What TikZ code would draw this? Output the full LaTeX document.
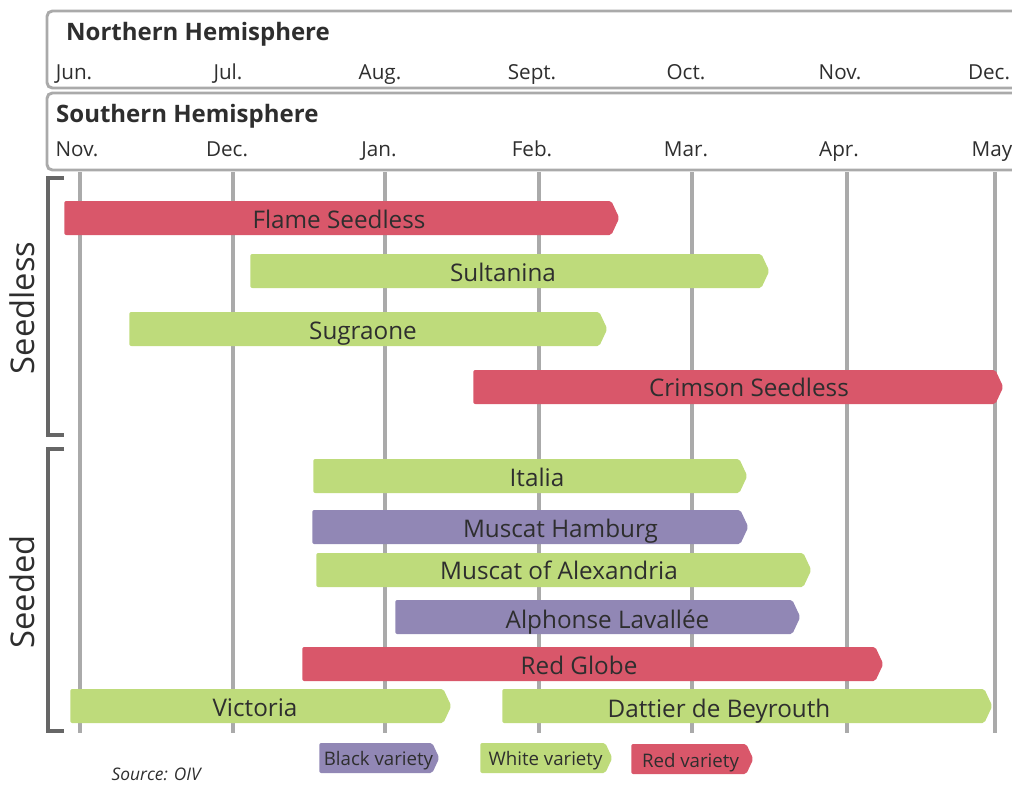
\documentclass[tikz,border=0pt]{standalone}
\usepackage{fontspec}
\setmainfont{Open Sans}
\usetikzlibrary{shapes.symbols}
\definecolor{redvar}{HTML}{D9576A}
\definecolor{whitevar}{HTML}{BEDB7B}
\definecolor{blackvar}{HTML}{9187B5}
\definecolor{gridgray}{HTML}{AAAAAA}
\definecolor{bracketgray}{HTML}{666666}
\definecolor{inkgray}{HTML}{2E2E2E}

\begin{document}
\begin{tikzpicture}[x=0.75pt,y=-0.75pt,
  bar/.style={signal, signal to=east, signal pointer angle=130, rounded corners=1.5pt,
    anchor=west, minimum height=25.5pt, inner sep=0pt},
  keybar/.style={bar, minimum height=22.5pt},
  barlabel/.style={anchor=base, text=inkgray, font=\fontsize{18.2}{18}\selectfont},
  keylabel/.style={anchor=base, text=inkgray, font=\fontsize{14}{14}\selectfont},
  month/.style={anchor=base, text=inkgray, font=\fontsize{15.5}{16}\selectfont},
  hemi/.style={anchor=base west, text=inkgray, font=\fontsize{18}{18}\selectfont\bfseries},
  headbox/.style={draw=gridgray, line width=2.2pt, rounded corners=4pt},
  gridline/.style={draw=gridgray, line width=2.5pt},
  bracket/.style={draw=bracketgray, line width=2.6pt},
  group/.style={rotate=90, text=inkgray, font=\fontsize{24.5}{25}\selectfont}]
\useasboundingbox (0,0) rectangle (1012,785);

% hemisphere headers
\draw[headbox] (47,11) rectangle (1060,88);
\draw[headbox] (47,93) rectangle (1060,170);
\node[hemi] (north) at (61.5,40) {Northern Hemisphere};
\node[hemi] (south) at (51.5,122) {Southern Hemisphere};

\node[month] (nJun) at (74,79) {Jun.};
\node[month] (nJul) at (228,79) {Jul.};
\node[month] (nAug) at (380,79) {Aug.};
\node[month] (nSep) at (532,79) {Sept.};
\node[month] (nOct) at (686,79) {Oct.};
\node[month] (nNov) at (840,79) {Nov.};
\node[month] (nDec) at (989,79) {Dec.};

\node[month] (sNov) at (77,156) {Nov.};
\node[month] (sDec) at (227,156) {Dec.};
\node[month] (sJan) at (379,156) {Jan.};
\node[month] (sFeb) at (532,156) {Feb.};
\node[month] (sMar) at (686,156) {Mar.};
\node[month] (sApr) at (839,156) {Apr.};
\node[month, anchor=base west] (sMay) at (967,156) {May};

% month grid
\draw[gridline] (80,172) -- (80,733);
\draw[gridline] (233,172) -- (233,733);
\draw[gridline] (385,172) -- (385,733);
\draw[gridline] (539,172) -- (539,733);
\draw[gridline] (692,172) -- (692,733);
\draw[gridline] (847,172) -- (847,733);
\draw[gridline] (995,172) -- (995,733);

% groups
\draw[bracket] (64,178) -- (48,178) -- (48,435) -- (64,435);
\draw[bracket] (64,449) -- (48,449) -- (48,731) -- (64,731);
\node[group] (seedless) at (22,308) {Seedless};
\node[group] (seeded) at (22,592) {Seeded};

% varieties
\node[bar, fill=redvar, minimum width=416.25pt] (flame) at (64,218) {};
\node[bar, fill=whitevar, minimum width=389.25pt] (sultanina) at (250,271) {};
\node[bar, fill=whitevar, minimum width=358.5pt] (sugraone) at (129,329) {};
\node[bar, fill=redvar, minimum width=397.5pt] (crimson) at (473,387) {};

\node[bar, fill=whitevar, minimum width=325.5pt] (italia) at (313,476) {};
\node[bar, fill=blackvar, minimum width=327pt] (hamburg) at (312,527) {};
\node[bar, fill=whitevar, minimum width=371.25pt] (alexandria) at (316,570) {};
\node[bar, fill=blackvar, minimum width=303.75pt] (lavallee) at (395,617) {};
\node[bar, fill=redvar, minimum width=435.75pt] (globe) at (302,664) {};
\node[bar, fill=whitevar, minimum width=285.75pt] (victoria) at (70,706) {};
\node[bar, fill=whitevar, minimum width=367.5pt] (dattier) at (502,706) {};

\node[barlabel] (flame-lbl) at (339,228) {Flame Seedless};
\node[barlabel] (sultanina-lbl) at (503,281) {Sultanina};
\node[barlabel] (sugraone-lbl) at (363,339) {Sugraone};
\node[barlabel] (crimson-lbl) at (749,396) {Crimson Seedless};
\node[barlabel] (italia-lbl) at (537,486) {Italia};
\node[barlabel] (hamburg-lbl) at (560.5,537) {Muscat Hamburg};
\node[barlabel] (alexandria-lbl) at (559,579) {Muscat of Alexandria};
\node[barlabel] (lavallee-lbl) at (607.5,628) {Alphonse Lavallée};
\node[barlabel] (globe-lbl) at (579,674) {Red Globe};
\node[barlabel] (victoria-lbl) at (255,716) {Victoria};
\node[barlabel] (dattier-lbl) at (719,717) {Dattier de Beyrouth};

% legend
\node[keybar, fill=blackvar, minimum width=90pt] (kblack) at (319,758) {};
\node[keybar, fill=whitevar, minimum width=99pt] (kwhite) at (480,758) {};
\node[keybar, fill=redvar, minimum width=91.5pt] (kred) at (631,759) {};
\node[keylabel] (kblack-lbl) at (378.5,765) {Black variety};
\node[keylabel] (kwhite-lbl) at (545.5,765) {White variety};
\node[keylabel] (kred-lbl) at (690.5,767) {Red variety};

\node[anchor=base west, text=inkgray, font=\fontsize{13}{13}\selectfont\itshape] (source) at (107,780) {Source: OIV};
\end{tikzpicture}
\end{document}
